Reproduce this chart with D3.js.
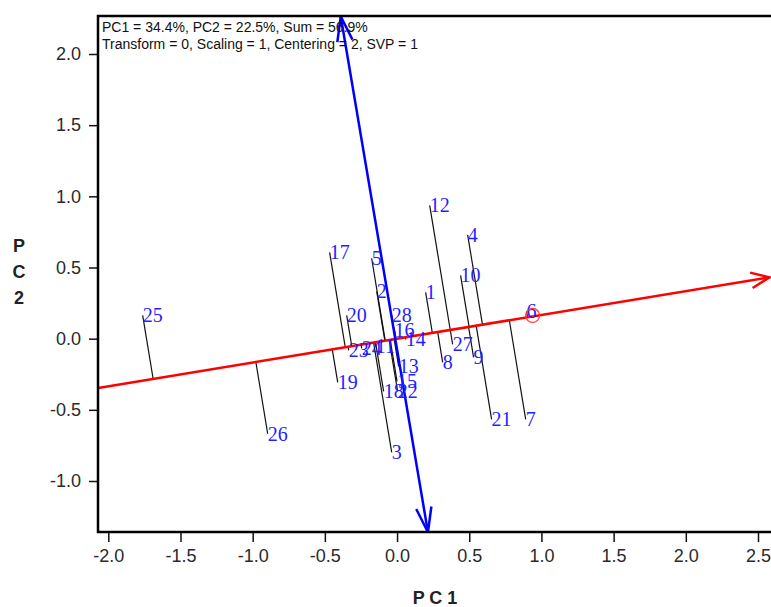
<!DOCTYPE html>
<html>
<head>
<meta charset="utf-8">
<script src="https://cdn.jsdelivr.net/npm/d3@7"></script>
<style>
  body { margin: 0; background: #fff; }
  svg { display: block; }
</style>
</head>
<body>
<div id="chart"></div>
<script>
// biplot data
var labels = ["1","2","3","4","5","6","7","8","9","10","11","12","13","14",
              "15","16","17","18","19","20","21","22","23","24","25","26","27","28"];
var pc1 = [0.198, -0.141, -0.037, 0.489, -0.176, 0.897, 0.891, 0.316, 0.530, 0.440,
           -0.148, 0.226, 0.011, 0.060, 0.000, -0.017, -0.467, -0.093, -0.411, -0.349,
           0.655, 0.004, -0.335, -0.245, -1.762, -0.896, 0.385, -0.037];
var pc2 = [0.325, 0.332, -0.799, 0.729, 0.565, 0.192, -0.567, -0.166, -0.131, 0.445,
           -0.054, 0.937, -0.195, -0.005, -0.300, 0.058, 0.606, -0.370, -0.307, 0.164,
           -0.567, -0.370, -0.082, -0.068, 0.164, -0.668, -0.040, 0.164];

// average-environment axis (red) and its ordinate (blue)
var redAxis = [[-2.07, -0.347], [2.58, 0.431]];
var blueAxis = [[-0.39, 2.264], [0.214, -1.36]];
var marker = [0.939, 0.163];

var xTicks = [-2.0, -1.5, -1.0, -0.5, 0.0, 0.5, 1.0, 1.5, 2.0, 2.5];
var yTicks = [-1.0, -0.5, 0.0, 0.5, 1.0, 1.5, 2.0];
var headerLines = ["PC1 = 34.4%, PC2 = 22.5%, Sum = 56.9%",
                   "Transform = 0, Scaling = 1, Centering = 2, SVP = 1"];

var svgWidth = 771, svgHeight = 607;
var box = {left: 98, top: 16, right: 773, bottom: 532};

var svg = d3.select("#chart").append("svg")
    .attr("width", svgWidth)
    .attr("height", svgHeight);

var x = d3.scaleLinear().domain([-2, 2.5]).range([108.3, 758]);
var y = d3.scaleLinear().domain([-1, 2]).range([481, 54]);

svg.append("clipPath").attr("id", "plotclip")
  .append("rect")
    .attr("x", box.left).attr("y", box.top)
    .attr("width", box.right - box.left).attr("height", box.bottom - box.top);

// axes
var fmt = function(v) { return v.toFixed(1); };
var yAxis = svg.append("g")
    .attr("transform", "translate(" + box.left + ",0)")
    .call(d3.axisLeft(y).tickValues(yTicks).tickFormat(fmt).tickSize(9).tickPadding(8));
var xAxis = svg.append("g")
    .attr("transform", "translate(0," + box.bottom + ")")
    .call(d3.axisBottom(x).tickValues(xTicks).tickFormat(fmt).tickSize(10).tickPadding(7));
[xAxis, yAxis].forEach(function(g) {
  g.select(".domain").remove();
  g.selectAll(".tick line").attr("stroke", "#111").attr("stroke-width", 1.5);
  g.selectAll(".tick text")
    .attr("fill", "#2a2a2a")
    .style("font-family", "Arial, 'Liberation Sans', sans-serif")
    .style("font-size", "18px");
});

// axis titles
svg.append("text")
    .attr("x", 435).attr("y", 604)
    .attr("text-anchor", "middle")
    .style("font-family", "Arial, 'Liberation Sans', sans-serif")
    .style("font-size", "18px").style("font-weight", "bold")
    .attr("fill", "#222")
    .text("P C 1");
["P", "C", "2"].forEach(function(ch, i) {
  svg.append("text")
      .attr("x", 19).attr("y", 252 + i * 26)
      .attr("text-anchor", "middle")
      .style("font-family", "Arial, 'Liberation Sans', sans-serif")
      .style("font-size", "18px").style("font-weight", "bold")
      .attr("fill", "#222")
      .text(ch);
});

var plot = svg.append("g").attr("clip-path", "url(#plotclip)");

// projections onto the red axis
var r0 = [x(redAxis[0][0]), y(redAxis[0][1])];
var r1 = [x(redAxis[1][0]), y(redAxis[1][1])];
var len = Math.hypot(r1[0] - r0[0], r1[1] - r0[1]);
var u = [(r1[0] - r0[0]) / len, (r1[1] - r0[1]) / len];

var points = labels.map(function(l, i) {
  var px = x(pc1[i]), py = y(pc2[i]);
  var t = (px - r0[0]) * u[0] + (py - r0[1]) * u[1];
  return {label: l, px: px, py: py, fx: r0[0] + t * u[0], fy: r0[1] + t * u[1]};
});

plot.selectAll(".proj")
  .data(points)
  .enter().append("line")
    .attr("class", "proj")
    .attr("x1", d => d.px).attr("y1", d => d.py)
    .attr("x2", d => d.fx).attr("y2", d => d.fy)
    .attr("stroke", "#111").attr("stroke-width", 1.2);

function arrowHead(tip, from, size, ang) {
  var a = Math.atan2(from[1] - tip[1], from[0] - tip[0]);
  var p1 = [tip[0] + size * Math.cos(a + ang), tip[1] + size * Math.sin(a + ang)];
  var p2 = [tip[0] + size * Math.cos(a - ang), tip[1] + size * Math.sin(a - ang)];
  return "M" + p1 + "L" + tip + "L" + p2;
}

// red axis with arrow
plot.append("line")
    .attr("x1", r0[0]).attr("y1", r0[1]).attr("x2", r1[0]).attr("y2", r1[1])
    .attr("stroke", "#ff0000").attr("stroke-width", 2.5);
plot.append("path")
    .attr("d", arrowHead(r1, r0, 20, 0.4))
    .attr("fill", "none").attr("stroke", "#ff0000").attr("stroke-width", 2.5);

// blue axis, arrow at both ends
var b0 = [x(blueAxis[0][0]), y(blueAxis[0][1])];
var b1 = [x(blueAxis[1][0]), y(blueAxis[1][1])];
plot.append("line")
    .attr("x1", b0[0]).attr("y1", b0[1]).attr("x2", b1[0]).attr("y2", b1[1])
    .attr("stroke", "#0000ff").attr("stroke-width", 2.5);
plot.append("path")
    .attr("d", arrowHead(b0, b1, 26, 0.3) + arrowHead(b1, b0, 26, 0.3))
    .attr("fill", "none").attr("stroke", "#0000ff").attr("stroke-width", 2.5);

// genotype labels
plot.selectAll(".lab")
  .data(points)
  .enter().append("text")
    .attr("class", "lab")
    .attr("x", d => d.px).attr("y", d => d.py + 7)
    .attr("fill", "#1f1fff")
    .style("font-family", "'Liberation Serif', 'Times New Roman', serif")
    .style("font-size", "20px")
    .text(d => d.label);

plot.append("circle")
    .attr("cx", x(marker[0])).attr("cy", y(marker[1])).attr("r", 7)
    .attr("fill", "none").attr("stroke", "#ff3333").attr("stroke-width", 1.2);

// frame
svg.append("rect")
    .attr("x", box.left).attr("y", box.top)
    .attr("width", box.right - box.left).attr("height", box.bottom - box.top)
    .attr("fill", "none").attr("stroke", "#000").attr("stroke-width", 2.5);

// header text
svg.selectAll(".hdr")
  .data(headerLines)
  .enter().append("text")
    .attr("class", "hdr")
    .attr("x", 102).attr("y", (d, i) => 32 + i * 17)
    .attr("fill", "#111")
    .style("font-family", "Arial, 'Liberation Sans', sans-serif")
    .style("font-size", "14px")
    .text(d => d);
</script>
</body>
</html>
